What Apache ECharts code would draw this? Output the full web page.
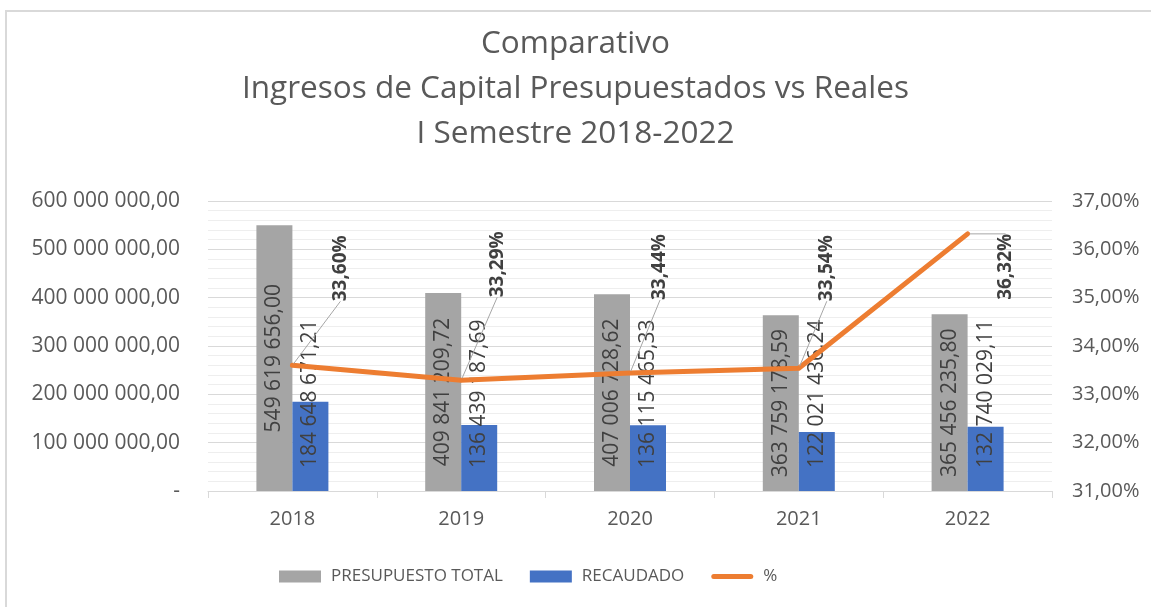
<!DOCTYPE html>
<html>
<head>
<meta charset="utf-8">
<script src="https://cdn.jsdelivr.net/npm/echarts@6/dist/echarts.min.js"></script>
<style>
  html, body { margin: 0; padding: 0; background: #fff; }
  #frame {
    position: absolute; left: 5px; top: 10px; width: 1160px; height: 620px;
    border-left: 2px solid #d9d9d9; border-top: 2px solid #d9d9d9;
  }
  #chart { position: absolute; left: 0; top: 0; width: 1151px; height: 607px; }
</style>
</head>
<body>
<div id="frame"></div>
<div id="chart"></div>
<script>
const years = ['2018', '2019', '2020', '2021', '2022']
const presupuesto = [549619656.00, 409841209.72, 407006728.62, 363759178.59, 365456235.80]
const recaudado = [184648671.21, 136439187.69, 136115465.33, 122021436.24, 132740029.11]
const porcentaje = [33.60, 33.29, 33.44, 33.54, 36.32]

// where the % callouts sit relative to their point (px)
const calloutDx = [48, 36, 30, 28, 38]
const calloutDy = [-97, -116, -106, -100, 33]

const FONT = '"Open Sans", sans-serif'
const textGray = '#595959'

const fmtMoney = (v) => {
  const [ent, dec] = Number(v).toFixed(2).split('.')
  return ent.replace(/\B(?=(\d{3})+(?!\d))/g, ' ') + ',' + dec
}
const fmtPct = (v) => Number(v).toFixed(2).replace('.', ',') + '%'

const chart = echarts.init(document.getElementById('chart'))

chart.setOption({
  animation: false,
  textStyle: { fontFamily: FONT },
  title: {
    text: 'Comparativo\nIngresos de Capital Presupuestados vs Reales\nI Semestre 2018-2022',
    left: 'center',
    top: 17,
    textStyle: { color: textGray, fontSize: 31.5, fontWeight: 'normal', lineHeight: 45, fontFamily: FONT }
  },
  grid: { left: 208, right: 99, top: 201, bottom: 116 },
  legend: {
    bottom: 17,
    left: 274,
    itemWidth: 42,
    itemHeight: 12,
    itemGap: 27,
    textStyle: { color: textGray, fontSize: 17, fontFamily: FONT, padding: [0, 0, 0, 5] },
    data: [
      { name: 'PRESUPUESTO TOTAL', icon: 'rect' },
      { name: 'RECAUDADO', icon: 'rect' },
      { name: '%', icon: 'path://M2.5,0 H39.5 A2.5,2.5 0 0 1 39.5,5 H2.5 A2.5,2.5 0 0 1 2.5,0 Z' }
    ]
  },
  xAxis: {
    type: 'category',
    data: years,
    axisLine: { lineStyle: { color: '#d9d9d9', width: 1 } },
    axisTick: { show: true, length: 7, lineStyle: { color: '#d9d9d9' } },
    axisLabel: { color: textGray, fontSize: 20, margin: 18 }
  },
  yAxis: [
    {
      type: 'value',
      min: 0,
      max: 600000000,
      interval: 100000000,
      axisLine: { show: false },
      axisTick: { show: false },
      axisLabel: {
        color: textGray, fontSize: 21, margin: 28,
        formatter: (v) => (v === 0 ? '-' : fmtMoney(v))
      },
      splitLine: { lineStyle: { color: '#d9d9d9' } },
      minorTick: { show: false, splitNumber: 5 },
      minorSplitLine: { show: true, lineStyle: { color: '#eeeeee' } }
    },
    {
      type: 'value',
      min: 31,
      max: 37,
      interval: 1,
      axisLine: { show: false },
      axisTick: { show: false },
      splitLine: { show: false },
      axisLabel: { color: textGray, fontSize: 20, margin: 20, formatter: fmtPct }
    }
  ],
  series: [
    {
      name: 'PRESUPUESTO TOTAL',
      type: 'bar',
      data: presupuesto,
      barWidth: 36,
      barGap: '0%',
      itemStyle: { color: '#a5a5a5' },
      label: {
        show: true,
        position: 'inside',
        rotate: 90,
        color: '#404040',
        fontSize: 21,
        fontFamily: FONT,
        formatter: (p) => fmtMoney(p.value)
      }
    },
    {
      name: 'RECAUDADO',
      type: 'bar',
      data: recaudado,
      barWidth: 36,
      itemStyle: { color: '#4472c4' },
      label: {
        show: true,
        position: 'insideBottom',
        rotate: 90,
        align: 'left',
        verticalAlign: 'middle',
        distance: 23,
        color: '#404040',
        fontSize: 21,
        fontFamily: FONT,
        formatter: (p) => fmtMoney(p.value)
      }
    },
    {
      name: '%',
      type: 'line',
      yAxisIndex: 1,
      data: porcentaje,
      symbol: 'circle',
      symbolSize: 4,
      z: 5,
      lineStyle: { color: '#ed7d31', width: 5, cap: 'round', join: 'round' },
      itemStyle: { color: '#ed7d31' },
      label: {
        show: true,
        rotate: 90,
        color: '#404040',
        fontSize: 19,
        fontWeight: 'bold',
        fontFamily: FONT,
        formatter: (p) => fmtPct(p.value)
      },
      labelLine: { show: true, lineStyle: { color: '#a6a6a6', width: 1 } },
      labelLayout: (params) => ({
        x: params.rect.x + params.rect.width / 2 + calloutDx[params.dataIndex],
        y: params.rect.y + params.rect.height / 2 + calloutDy[params.dataIndex],
        align: 'center',
        verticalAlign: 'middle'
      })
    }
  ]
})
</script>
</body>
</html>
